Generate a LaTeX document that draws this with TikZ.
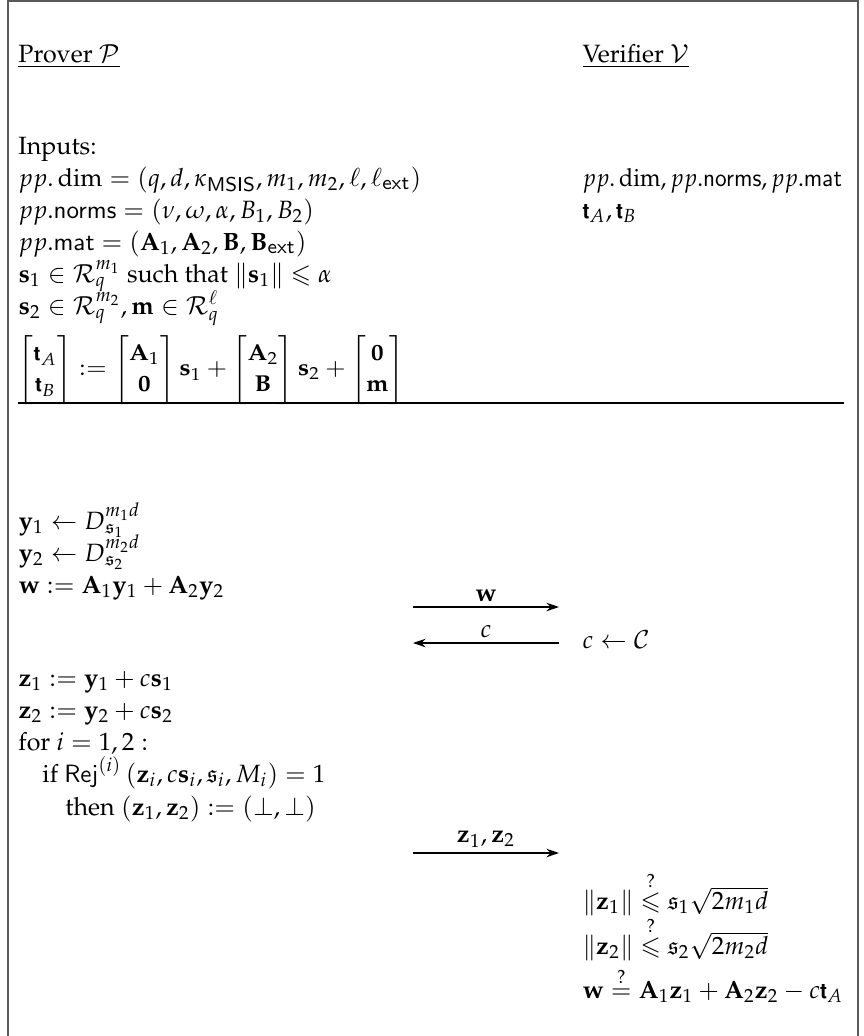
\documentclass[tikz,border=0pt]{standalone}
\usepackage[T1]{fontenc}
\usepackage{amsmath,amssymb}
\usepackage{mathpazo}
\usepackage[scaled=0.83]{helvet}
\usetikzlibrary{arrows.meta}
\newcommand{\bt}{\textsf{\bfseries t}}
\tikzset{
  txt/.style={anchor=base west, inner sep=0pt},
  msg/.style={-{Stealth[length=5pt,width=3.4pt]}, line width=0.5pt},
  lbl/.style={above=2pt, inner sep=0pt},
  frameline/.style={draw=black!65, line width=0.7pt},
  sepline/.style={line width=0.5pt}
}
\begin{document}
\begin{tikzpicture}[x=0.4pt, y=-0.4pt]
\useasboundingbox (0,0) rectangle (863,1036);
% frame
\draw[frameline] (8,1036) -- (8,1) -- (858,1) -- (858,1036);
% headers
\node[txt] (prover) at (18,62) {\underline{Prover $\mathcal{P}$}};
\node[txt] (verifier) at (582,62) {\underline{Verifier $\mathcal{V}$}};
% inputs
\node[txt] (inputs) at (18,154) {Inputs:};
\node[txt] (pdim) at (18,186) {$pp.\dim = (q, d, \kappa_{\mathsf{MSIS}}, m_1, m_2, \ell, \ell_{\mathsf{ext}})$};
\node[txt] (pnorms) at (18,218) {$pp.\mathsf{norms} = (\nu, \omega, \alpha, B_1, B_2)$};
\node[txt] (pmat) at (18,250) {$pp.\mathsf{mat} = (\mathbf{A}_1, \mathbf{A}_2, \mathbf{B}, \mathbf{B}_{\mathsf{ext}})$};
\node[txt] (s1) at (18,282) {$\mathbf{s}_1 \in \mathcal{R}_q^{m_1}$ such that $\|\mathbf{s}_1\| \leqslant \alpha$};
\node[txt] (s2) at (18,314) {$\mathbf{s}_2 \in \mathcal{R}_q^{m_2}, \mathbf{m} \in \mathcal{R}_q^{\ell}$};
\node[anchor=west, inner sep=0pt] (tdef) at (18,370) {\scalebox{1}[0.92]{\renewcommand{\arraystretch}{1.13}$\begin{bmatrix}\bt_A\\ \bt_B\end{bmatrix} := \begin{bmatrix}\mathbf{A}_1\\ \mathbf{0}\end{bmatrix}\mathbf{s}_1 + \begin{bmatrix}\mathbf{A}_2\\ \mathbf{B}\end{bmatrix}\mathbf{s}_2 + \begin{bmatrix}\mathbf{0}\\ \mathbf{m}\end{bmatrix}$}};
\node[txt] (vin1) at (582,186) {\scalebox{0.93}[1]{$pp.\dim, pp.\mathsf{norms}, pp.\mathsf{mat}$}};
\node[txt] (vin2) at (582,218) {$\bt_A, \bt_B$};
% separator
\coordinate (sepL) at (18,403);
\coordinate (sepR) at (844,403);
\draw[sepline] (sepL) -- (sepR);
% commitment
\node[txt] (y1) at (18,529) {$\mathbf{y}_1 \leftarrow D_{\mathfrak{s}_1}^{m_1 d}$};
\node[txt] (y2) at (18,561) {$\mathbf{y}_2 \leftarrow D_{\mathfrak{s}_2}^{m_2 d}$};
\node[txt] (wdef) at (18,593) {$\mathbf{w} := \mathbf{A}_1\mathbf{y}_1 + \mathbf{A}_2\mathbf{y}_2$};
\coordinate (wL) at (413,607);
\coordinate (wR) at (559,607);
\draw[msg] (wL) -- node[lbl] (wlab) {$\mathbf{w}$} (wR);
% challenge
\coordinate (cL) at (413,643);
\coordinate (cR) at (559,643);
\draw[msg] (cR) -- node[lbl] (clab) {$c$} (cL);
\node[txt] (cdef) at (582,648) {$c \leftarrow \mathcal{C}$};
% response
\node[txt] (z1) at (18,686) {$\mathbf{z}_1 := \mathbf{y}_1 + c\mathbf{s}_1$};
\node[txt] (z2) at (18,718) {$\mathbf{z}_2 := \mathbf{y}_2 + c\mathbf{s}_2$};
\node[txt] (for) at (18,750) {for $i = 1, 2:$};
\node[txt] (if) at (42,782) {if $\mathsf{Rej}^{(i)}\,(\mathbf{z}_i, c\mathbf{s}_i, \mathfrak{s}_i, M_i) = 1$};
\node[txt] (then) at (65,815) {then $(\mathbf{z}_1, \mathbf{z}_2) := (\bot, \bot)$};
\coordinate (zL) at (413,853);
\coordinate (zR) at (559,853);
\draw[msg] (zL) -- node[lbl] (zlab) {$\mathbf{z}_1, \mathbf{z}_2$} (zR);
% verification
\node[txt] (chk1) at (582,909) {$\|\mathbf{z}_1\| \stackrel{?}{\leqslant} \mathfrak{s}_1\sqrt{2 m_1 d}$};
\node[txt] (chk2) at (582,954) {$\|\mathbf{z}_2\| \stackrel{?}{\leqslant} \mathfrak{s}_2\sqrt{2 m_2 d}$};
\node[txt] (chk3) at (582,998) {$\mathbf{w} \stackrel{?}{=} \mathbf{A}_1\mathbf{z}_1 + \mathbf{A}_2\mathbf{z}_2 - c\bt_A$};
\end{tikzpicture}
\end{document}
